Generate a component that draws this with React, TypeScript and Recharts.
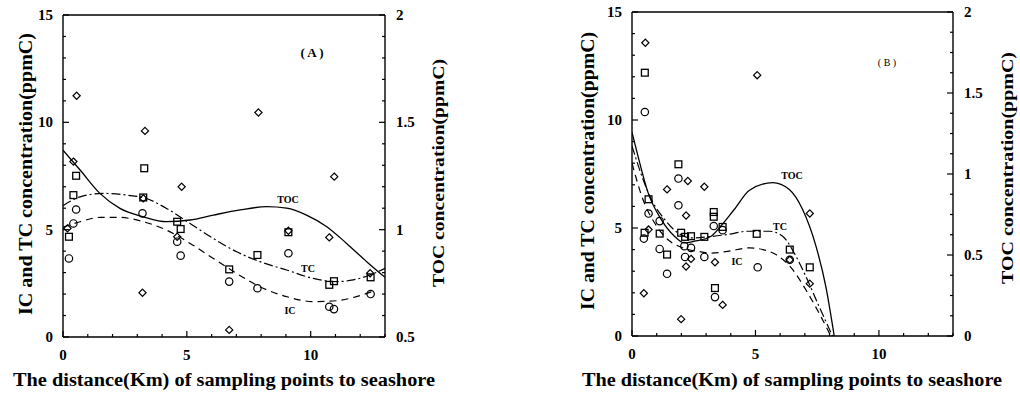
import { ComposedChart, Line, Scatter, XAxis, YAxis, ReferenceLine } from "recharts"

// ---- panel A (distance km vs concentration) ----
const aTocPoints = [
  { x: 0.18, y: 1.006 }, { x: 0.42, y: 1.317 }, { x: 0.55, y: 1.624 }, { x: 3.21, y: 0.706 },
  { x: 3.24, y: 1.146 }, { x: 3.31, y: 1.46 }, { x: 4.61, y: 0.967 }, { x: 4.79, y: 1.2 },
  { x: 6.71, y: 0.533 }, { x: 7.89, y: 1.546 }, { x: 9.1, y: 0.995 }, { x: 10.75, y: 0.964 },
  { x: 10.95, y: 1.247 }, { x: 12.4, y: 0.797 },
]
const aTcPoints = [
  { x: 0.24, y: 4.67 }, { x: 0.42, y: 6.61 }, { x: 0.53, y: 7.51 }, { x: 3.28, y: 7.86 },
  { x: 3.24, y: 6.5 }, { x: 4.61, y: 5.37 }, { x: 4.75, y: 5.03 }, { x: 6.71, y: 3.15 },
  { x: 7.85, y: 3.82 }, { x: 9.1, y: 4.88 }, { x: 10.75, y: 2.43 }, { x: 10.94, y: 2.6 },
  { x: 12.42, y: 2.78 },
]
const aIcPoints = [
  { x: 0.24, y: 3.66 }, { x: 0.42, y: 5.29 }, { x: 0.53, y: 5.94 }, { x: 3.21, y: 5.76 },
  { x: 4.61, y: 4.44 }, { x: 4.75, y: 3.79 }, { x: 6.71, y: 2.58 }, { x: 7.85, y: 2.27 },
  { x: 9.1, y: 3.9 }, { x: 10.75, y: 1.41 }, { x: 10.94, y: 1.3 }, { x: 12.42, y: 2.0 },
]
const aTocCurve = [
  { x: 0, y: 1.37 }, { x: 0.69, y: 1.278 }, { x: 1.49, y: 1.169 }, { x: 2.3, y: 1.099 },
  { x: 3.24, y: 1.06 }, { x: 4.18, y: 1.037 }, { x: 5.13, y: 1.045 }, { x: 6.07, y: 1.068 },
  { x: 7.15, y: 1.092 }, { x: 8.22, y: 1.107 }, { x: 9.03, y: 1.1 }, { x: 9.83, y: 1.068 },
  { x: 10.65, y: 1.014 }, { x: 11.45, y: 0.936 }, { x: 12.26, y: 0.851 }, { x: 13, y: 0.778 },
]
const aTcCurve = [
  { x: 0, y: 6.12 }, { x: 0.69, y: 6.53 }, { x: 1.63, y: 6.69 }, { x: 2.57, y: 6.61 },
  { x: 3.37, y: 6.45 }, { x: 4.18, y: 5.99 }, { x: 5.13, y: 5.29 }, { x: 6.07, y: 4.59 },
  { x: 7.01, y: 3.97 }, { x: 7.95, y: 3.51 }, { x: 9.03, y: 3.12 }, { x: 10.1, y: 2.73 },
  { x: 11.05, y: 2.58 }, { x: 11.72, y: 2.66 }, { x: 12.4, y: 2.89 }, { x: 13, y: 3.2 },
]
const aIcCurve = [
  { x: 0, y: 5.12 }, { x: 0.69, y: 5.37 }, { x: 1.49, y: 5.57 }, { x: 2.3, y: 5.57 },
  { x: 3.24, y: 5.37 }, { x: 4.18, y: 4.98 }, { x: 5.13, y: 4.36 }, { x: 6.07, y: 3.66 },
  { x: 7.01, y: 2.96 }, { x: 7.95, y: 2.34 }, { x: 9.03, y: 1.88 }, { x: 10.1, y: 1.65 },
  { x: 11.05, y: 1.69 }, { x: 11.85, y: 1.88 }, { x: 12.5, y: 2.12 },
]

// ---- panel B ----
const bTocPoints = [
  { x: 0.54, y: 1.81 }, { x: 0.48, y: 0.264 }, { x: 0.67, y: 0.657 }, { x: 1.42, y: 0.905 },
  { x: 1.99, y: 0.104 }, { x: 2.19, y: 0.744 }, { x: 2.19, y: 0.429 }, { x: 2.26, y: 0.957 },
  { x: 2.39, y: 0.476 }, { x: 2.93, y: 0.921 }, { x: 3.36, y: 0.455 }, { x: 3.67, y: 0.192 },
  { x: 5.07, y: 1.61 }, { x: 6.39, y: 0.47 }, { x: 7.2, y: 0.756 }, { x: 7.2, y: 0.323 },
]
const bTcPoints = [
  { x: 0.52, y: 12.19 }, { x: 0.67, y: 6.33 }, { x: 0.51, y: 4.78 }, { x: 1.12, y: 4.74 },
  { x: 1.42, y: 3.77 }, { x: 1.88, y: 7.95 }, { x: 1.99, y: 4.78 }, { x: 2.15, y: 4.59 },
  { x: 2.39, y: 4.62 }, { x: 2.93, y: 4.59 }, { x: 3.31, y: 5.74 }, { x: 3.31, y: 5.52 },
  { x: 3.67, y: 5.05 }, { x: 3.36, y: 2.22 }, { x: 5.05, y: 4.73 }, { x: 6.39, y: 4.0 },
  { x: 7.2, y: 3.18 },
]
const bIcPoints = [
  { x: 0.52, y: 10.37 }, { x: 0.48, y: 4.51 }, { x: 0.67, y: 5.67 }, { x: 1.12, y: 5.32 },
  { x: 1.12, y: 4.03 }, { x: 1.42, y: 2.88 }, { x: 1.88, y: 7.29 }, { x: 1.88, y: 6.05 },
  { x: 2.12, y: 4.16 }, { x: 2.15, y: 3.66 }, { x: 2.39, y: 4.08 }, { x: 2.93, y: 3.66 },
  { x: 3.31, y: 5.09 }, { x: 3.36, y: 1.8 }, { x: 3.67, y: 4.9 }, { x: 5.09, y: 3.18 },
  { x: 6.39, y: 3.53 },
]
const bTocCurve = [
  { x: 0, y: 1.257 }, { x: 0.24, y: 1.112 }, { x: 0.65, y: 0.885 }, { x: 1.18, y: 0.72 },
  { x: 1.72, y: 0.616 }, { x: 2.12, y: 0.575 }, { x: 2.53, y: 0.585 }, { x: 3.2, y: 0.616 },
  { x: 3.6, y: 0.679 }, { x: 4.14, y: 0.781 }, { x: 4.76, y: 0.9 }, { x: 5.7, y: 0.947 },
  { x: 6.37, y: 0.905 }, { x: 6.91, y: 0.781 }, { x: 7.45, y: 0.555 }, { x: 7.85, y: 0.305 },
  { x: 8.19, y: 0 },
]
const bTcCurve = [
  { x: 0, y: 8.8 }, { x: 0.4, y: 7.4 }, { x: 0.78, y: 6.33 }, { x: 1.32, y: 5.4 },
  { x: 1.85, y: 4.78 }, { x: 2.4, y: 4.54 }, { x: 3.06, y: 4.59 }, { x: 3.87, y: 4.7 },
  { x: 4.68, y: 4.85 }, { x: 5.56, y: 4.85 }, { x: 6.1, y: 4.62 }, { x: 6.64, y: 3.69 },
  { x: 7.04, y: 2.76 }, { x: 7.58, y: 1.36 }, { x: 8.12, y: 0 },
]
const bIcCurve = [
  { x: 0, y: 8.0 }, { x: 0.44, y: 6.33 }, { x: 0.91, y: 5.24 }, { x: 1.45, y: 4.47 },
  { x: 2.06, y: 4.08 }, { x: 2.66, y: 3.92 }, { x: 3.2, y: 3.84 }, { x: 3.87, y: 3.92 },
  { x: 4.76, y: 4.08 }, { x: 5.3, y: 4.0 }, { x: 5.83, y: 3.77 }, { x: 6.51, y: 3.07 },
  { x: 7.04, y: 2.14 }, { x: 7.58, y: 1.05 }, { x: 8.05, y: 0 },
]

// ---- ticks ----
const xTicks = [0, 1, 2, 3, 4, 5, 6, 7, 8, 9, 10, 11, 12, 13]
const xMajor = [0, 5, 10]
const leftTicks = [0, 1, 2, 3, 4, 5, 6, 7, 8, 9, 10, 11, 12, 13, 14, 15]
const leftMajor = [0, 5, 10, 15]
const rightTicksA = [0.5, 0.6, 0.7, 0.8, 0.9, 1, 1.1, 1.2, 1.3, 1.4, 1.5, 1.6, 1.7, 1.8, 1.9, 2]
const rightMajorA = [0.5, 1, 1.5, 2]
const rightTicksB = [0, 0.125, 0.25, 0.375, 0.5, 0.625, 0.75, 0.875, 1, 1.125, 1.25, 1.375, 1.5, 1.625, 1.75, 1.875, 2]
const rightMajorB = [0, 0.5, 1, 1.5, 2]

const FONT = "'Liberation Serif', 'DejaVu Serif', serif"
const W = 510
const H = 394

function makeTick(side: "left" | "right" | "bottom", majors: number[]) {
  return (props: any) => {
    const { x, y, payload } = props
    const v = payload.value
    const major = majors.some((m) => Math.abs(m - v) < 1e-6)
    const len = major ? 6 : 3
    if (side === "left") {
      return (
        <g>
          <line x1={x} x2={x + len} y1={y} y2={y} stroke="#000" strokeWidth={1.2} />
          {major && (
            <text x={x - 10} y={y + 5} textAnchor="end" fontFamily={FONT} fontWeight="bold" fontSize={15} fill="#000">
              {v}
            </text>
          )}
        </g>
      )
    }
    if (side === "right") {
      return (
        <g>
          <line x1={x} x2={x - len} y1={y} y2={y} stroke="#000" strokeWidth={1.2} />
          {major && (
            <text x={x + 11} y={y + 5} textAnchor="start" fontFamily={FONT} fontWeight="bold" fontSize={15} fill="#000">
              {v}
            </text>
          )}
        </g>
      )
    }
    return (
      <g>
        <line x1={x} x2={x} y1={y} y2={y - len} stroke="#000" strokeWidth={1.2} />
        {major && (
          <text x={x} y={y + 23} textAnchor="middle" fontFamily={FONT} fontWeight="bold" fontSize={15} fill="#000">
            {v}
          </text>
        )}
      </g>
    )
  }
}

const diamond = (p: any) => (
  <path d={`M${p.cx},${p.cy - 3.6}L${p.cx + 3.6},${p.cy}L${p.cx},${p.cy + 3.6}L${p.cx - 3.6},${p.cy}Z`} fill="none" stroke="#000" strokeWidth={1.2} />
)
const square = (p: any) => (
  <rect x={p.cx - 3.4} y={p.cy - 3.4} width={6.8} height={6.8} fill="none" stroke="#000" strokeWidth={1.3} />
)
const circle = (p: any) => <circle cx={p.cx} cy={p.cy} r={3.7} fill="none" stroke="#000" strokeWidth={1.2} />

type PanelProps = {
  plotLeft: number
  plotRight: number
  plotTop: number
  plotBottom: number
  rightDomain: [number, number]
  rightTicks: number[]
  rightMajor: number[]
  tocPoints: { x: number; y: number }[]
  tcPoints: { x: number; y: number }[]
  icPoints: { x: number; y: number }[]
  tocCurve: { x: number; y: number }[]
  tcCurve: { x: number; y: number }[]
  icCurve: { x: number; y: number }[]
}

function Panel(p: PanelProps) {
  const axisLine = { stroke: "#000", strokeWidth: 1.4 }
  return (
    <ComposedChart width={W} height={H} margin={{ top: p.plotTop, right: 0, bottom: 0, left: 0 }}>
      <XAxis
        dataKey="x"
        type="number"
        domain={[0, 13]}
        ticks={xTicks}
        interval={0}
        allowDataOverflow
        height={H - p.plotBottom}
        axisLine={axisLine}
        tickLine={false}
        tickSize={0}
        tickMargin={0}
        tick={makeTick("bottom", xMajor)}
      />
      <YAxis
        yAxisId="left"
        domain={[0, 15]}
        ticks={leftTicks}
        interval={0}
        allowDataOverflow
        width={p.plotLeft}
        axisLine={axisLine}
        tickLine={false}
        tickSize={0}
        tickMargin={0}
        tick={makeTick("left", leftMajor)}
      />
      <YAxis
        yAxisId="right"
        orientation="right"
        domain={p.rightDomain}
        ticks={p.rightTicks}
        interval={0}
        allowDataOverflow
        width={W - p.plotRight}
        axisLine={axisLine}
        tickLine={false}
        tickSize={0}
        tickMargin={0}
        tick={makeTick("right", p.rightMajor)}
      />
      <ReferenceLine yAxisId="left" y={15} stroke="#000" strokeWidth={1.4} />
      <Line data={p.tocCurve} dataKey="y" yAxisId="right" type="monotone" stroke="#000" strokeWidth={1.3} dot={false} isAnimationActive={false} />
      <Line data={p.tcCurve} dataKey="y" yAxisId="left" type="monotone" stroke="#000" strokeWidth={1.2} strokeDasharray="9 3 2 3" dot={false} isAnimationActive={false} />
      <Line data={p.icCurve} dataKey="y" yAxisId="left" type="monotone" stroke="#000" strokeWidth={1.2} strokeDasharray="7 5" dot={false} isAnimationActive={false} />
      <Scatter data={p.tocPoints} dataKey="y" yAxisId="right" shape={diamond} isAnimationActive={false} />
      <Scatter data={p.tcPoints} dataKey="y" yAxisId="left" shape={square} isAnimationActive={false} />
      <Scatter data={p.icPoints} dataKey="y" yAxisId="left" shape={circle} isAnimationActive={false} />
    </ComposedChart>
  )
}

const T = { fontFamily: FONT, fontWeight: "bold" as const, fill: "#000" }

export default function App() {
  return (
    <div style={{ position: "absolute", left: 0, top: 0, width: 1020, height: 394, background: "#fff" }}>
      <div style={{ position: "absolute", left: 0, top: 0 }}>
        <Panel
          plotLeft={63} plotRight={385} plotTop={15} plotBottom={337}
          rightDomain={[0.5, 2]} rightTicks={rightTicksA} rightMajor={rightMajorA}
          tocPoints={aTocPoints} tcPoints={aTcPoints} icPoints={aIcPoints}
          tocCurve={aTocCurve} tcCurve={aTcCurve} icCurve={aIcCurve}
        />
      </div>
      <div style={{ position: "absolute", left: 510, top: 0 }}>
        <Panel
          plotLeft={122} plotRight={443} plotTop={12} plotBottom={336}
          rightDomain={[0, 2]} rightTicks={rightTicksB} rightMajor={rightMajorB}
          tocPoints={bTocPoints} tcPoints={bTcPoints} icPoints={bIcPoints}
          tocCurve={bTocCurve} tcCurve={bTcCurve} icCurve={bIcCurve}
        />
      </div>
      <svg width={1020} height={394} style={{ position: "absolute", left: 0, top: 0, pointerEvents: "none" }}>
        {/* panel A titles */}
        <text {...T} fontSize={19} textAnchor="middle" transform="translate(32,174) rotate(-90)" textLength={282} lengthAdjust="spacingAndGlyphs">
          IC and TC concentration(ppmC)
        </text>
        <text {...T} fontSize={17} textAnchor="middle" transform="translate(444,173) rotate(-90)" textLength={228} lengthAdjust="spacingAndGlyphs">
          TOC concentration(ppmC)
        </text>
        <text {...T} fontSize={18} x={224} y={386} textAnchor="middle" textLength={422} lengthAdjust="spacingAndGlyphs">
          The distance(Km) of sampling points to seashore
        </text>
        <text {...T} fontSize={13} x={312} y={57} textAnchor="middle">( A )</text>
        <text {...T} fontSize={10} x={288} y={203} textAnchor="middle">TOC</text>
        <text {...T} fontSize={10} x={308} y={272} textAnchor="middle">TC</text>
        <text {...T} fontSize={10} x={290} y={314} textAnchor="middle">IC</text>
        {/* panel B titles */}
        <text {...T} fontSize={19} textAnchor="middle" transform="translate(594,171) rotate(-90)" textLength={278} lengthAdjust="spacingAndGlyphs">
          IC and TC concentration(ppmC)
        </text>
        <text {...T} fontSize={17} textAnchor="middle" transform="translate(1013,168) rotate(-90)" textLength={232} lengthAdjust="spacingAndGlyphs">
          TOC concentration(ppmC)
        </text>
        <text {...T} fontSize={18} x={792} y={386} textAnchor="middle" textLength={420} lengthAdjust="spacingAndGlyphs">
          The distance(Km) of sampling points to seashore
        </text>
        <text fontFamily={FONT} fill="#000" fontSize={10} x={887} y={66} textAnchor="middle">( B )</text>
        <text {...T} fontSize={10} x={792} y={179} textAnchor="middle">TOC</text>
        <text {...T} fontSize={10} x={780} y={230} textAnchor="middle">TC</text>
        <text {...T} fontSize={10} x={737} y={265} textAnchor="middle">IC</text>
      </svg>
    </div>
  )
}
